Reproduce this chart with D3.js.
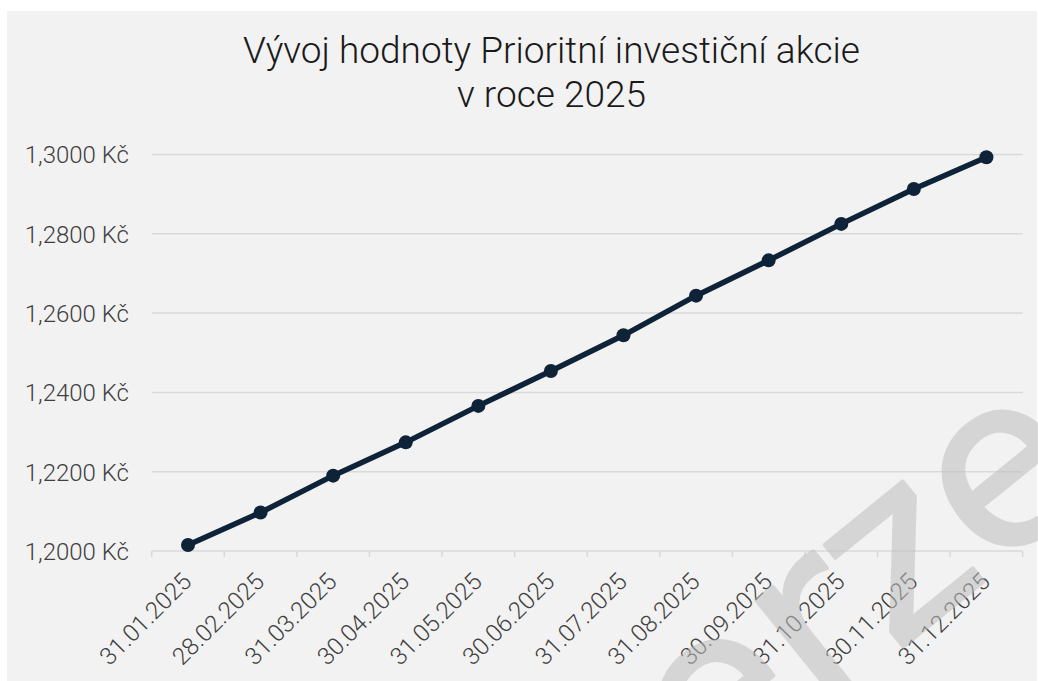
<!DOCTYPE html>
<html>
<head>
<meta charset="utf-8">
<script src="https://cdn.jsdelivr.net/npm/d3@7"></script>
<style>
  html, body { margin: 0; padding: 0; background: #ffffff; }
  svg { display: block; }
</style>
</head>
<body>
<svg id="chart" width="1038" height="681"></svg>
<script>
const categories = ["31.01.2025","28.02.2025","31.03.2025","30.04.2025","31.05.2025","30.06.2025",
                    "31.07.2025","31.08.2025","30.09.2025","31.10.2025","30.11.2025","31.12.2025"];
const values = [1.2015, 1.2097, 1.2190, 1.2274, 1.2366, 1.2454, 1.2544, 1.2644, 1.2733, 1.2825, 1.2913, 1.2993];
const yTicks = [1.20, 1.22, 1.24, 1.26, 1.28, 1.30];
const titleLines = ["Vývoj hodnoty Prioritní investiční akcie", "v roce 2025"];
const watermarkText = "verze";

const svg = d3.select("#chart");
const W = 1038, H = 681;
const plot = { left: 151.7, right: 1022.7, top: 154.5, bottom: 551 };

// chart area background
svg.append("rect").attr("x", 7).attr("y", 11).attr("width", W - 8).attr("height", H - 11).attr("fill", "#f2f2f2");

const x = d3.scaleBand().domain(categories).range([plot.left, plot.right]).paddingInner(0).paddingOuter(0);
const y = d3.scaleLinear().domain([1.20, 1.30]).range([plot.bottom, plot.top]);

const fmt = v => d3.format(".4f")(v).replace(".", ",") + " Kč";

// gridlines
svg.append("g").selectAll("line").data(yTicks.filter(t => t > 1.2)).join("line")
  .attr("x1", plot.left).attr("x2", plot.right)
  .attr("y1", d => y(d)).attr("y2", d => y(d))
  .attr("stroke", "#d9d9d9").attr("stroke-width", 1.5);

// y axis labels
const yAxis = d3.axisLeft(y).tickValues(yTicks).tickFormat(fmt).tickSize(0).tickPadding(0);
const gy = svg.append("g").attr("transform", `translate(129,0)`).call(yAxis);
gy.select(".domain").remove();
gy.selectAll("text")
  .attr("font-family", "Roboto").attr("font-weight", 300).attr("font-size", 24)
  .attr("fill", "#404040").attr("dy", "0.35em");

// x axis
const xAxis = d3.axisBottom(x).tickSize(0).tickPadding(0);
const gx = svg.append("g").attr("transform", `translate(0,${plot.bottom})`).call(xAxis);
gx.select(".domain").remove();
gx.selectAll(".tick line").remove();
gx.selectAll(".tick text")
  .attr("font-family", "Roboto").attr("font-weight", 300).attr("font-size", 24)
  .attr("fill", "#404040")
  .attr("text-anchor", "end")
  .attr("dy", 0).attr("y", 0)
  .attr("transform", "translate(5,32) rotate(-45)");

// axis line and tick marks at band edges
svg.append("line").attr("x1", plot.left).attr("x2", plot.right)
  .attr("y1", plot.bottom).attr("y2", plot.bottom)
  .attr("stroke", "#d9d9d9").attr("stroke-width", 1.5);
const edges = categories.map(c => x(c)).concat([x(categories[categories.length - 1]) + x.bandwidth()]);
svg.append("g").selectAll("line").data(edges).join("line")
  .attr("x1", d => d).attr("x2", d => d)
  .attr("y1", plot.bottom).attr("y2", plot.bottom + 6)
  .attr("stroke", "#d9d9d9").attr("stroke-width", 1.5);

// line + markers
const data = categories.map((c, i) => ({ c, v: values[i] }));
const line = d3.line().x(d => x(d.c) + x.bandwidth() / 2).y(d => y(d.v));
svg.append("path").datum(data).attr("d", line)
  .attr("fill", "none").attr("stroke", "#0e2238").attr("stroke-width", 5.5)
  .attr("stroke-linejoin", "round").attr("stroke-linecap", "round");
svg.append("g").selectAll("circle").data(data).join("circle")
  .attr("cx", d => x(d.c) + x.bandwidth() / 2).attr("cy", d => y(d.v))
  .attr("r", 7).attr("fill", "#0e2238");

// title
svg.append("g").selectAll("text").data(titleLines).join("text")
  .attr("x", 551.5).attr("y", (d, i) => 63 + i * 44)
  .attr("text-anchor", "middle")
  .attr("font-family", "Roboto").attr("font-weight", 300).attr("font-size", 37)
  .attr("fill", "#1a1a1a")
  .text(d => d);

// watermark
svg.append("text")
  .attr("transform", "translate(600,892) rotate(-39)")
  .attr("font-family", "DejaVu Sans").attr("font-weight", "normal").attr("font-size", 235)
  .attr("fill", "#bfbfbf").attr("stroke", "#bfbfbf").attr("stroke-width", 4)
  .attr("stroke-linejoin", "round")
  .attr("opacity", 0.55)
  .text(watermarkText);
</script>
</body>
</html>
